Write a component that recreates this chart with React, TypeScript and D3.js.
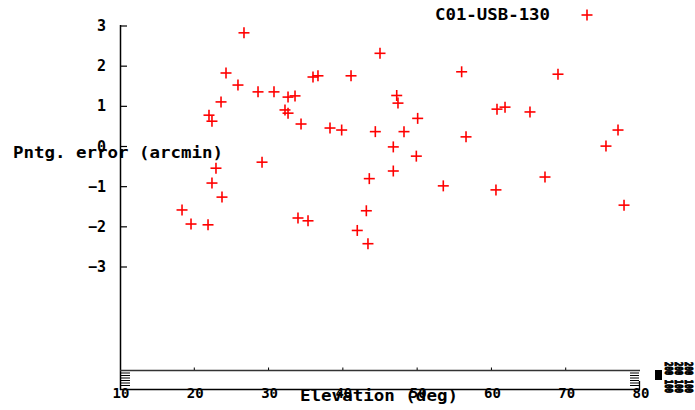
import React from "react";
import * as d3 from "d3";

const elevation = [18.35, 19.56, 21.85, 22.38, 22.92, 23.73, 21.98, 22.38, 23.6, 24.27, 25.88, 26.69, 28.58, 30.73, 29.12, 32.21, 32.62, 32.62, 33.56, 34.37, 33.96, 35.31, 35.98, 36.65, 38.27, 39.84, 41.1, 41.94, 43.16, 43.38, 43.56, 44.37, 45.0, 46.79, 46.79, 47.25, 47.42, 48.23, 50.07, 49.89, 53.52, 55.99, 56.58, 60.75, 60.61, 61.83, 65.19, 67.21, 68.96, 75.42, 77.04, 77.85];
const pntgError = [-1.58, -1.93, -1.95, -0.91, -0.54, -1.26, 0.78, 0.63, 1.11, 1.83, 1.53, 2.83, 1.36, 1.36, -0.39, 0.91, 1.23, 0.83, 1.26, 0.56, -1.78, -1.85, 1.73, 1.76, 0.46, 0.41, 1.76, -2.09, -1.6, -2.42, -0.8, 0.37, 2.32, -0.01, -0.61, 1.27, 1.08, 0.37, 0.7, -0.24, -0.98, 1.86, 0.24, 0.93, -1.08, 0.98, 0.86, -0.76, 1.8, 0.01, 0.41, -1.46];
const yTicks = [3, 2, 1, 0, -1, -2, -3];
const xTicks = [10, 20, 30, 40, 50, 60, 70, 80];
const seriesName = "C01-USB-130";
const xTitle = "Elevation (deg)";
const yTitle = "Pntg. error (arcmin)";

const FONT = "'DejaVu Sans Mono', monospace";

export default function App() {
  const x = d3.scaleLinear().domain([10, 80]).range([120, 640]);
  const y = d3.scaleLinear().domain([-3, 3]).range([267, 26]);
  const red = "#ff0000";
  const plus = (cx: number, cy: number, k: string | number) => (
    <g key={k} stroke={red} strokeWidth={1.6}>
      <line x1={cx - 5.5} x2={cx + 5.5} y1={cy} y2={cy} />
      <line x1={cx} x2={cx} y1={cy - 5.5} y2={cy + 5.5} />
    </g>
  );
  const stack = [373, 375.5, 378, 380.5, 383, 385.5];
  return (
    <svg width={695} height={410} style={{ position: "absolute", left: 0, top: 0, background: "#fff" }}>
      <rect width={695} height={410} fill="#fff" />
      {/* left axis */}
      <line x1={120.5} x2={120.5} y1={25} y2={390} stroke="#000" strokeWidth={1.5} />
      {yTicks.map((t) => (
        <g key={t}>
          <line x1={120.5} x2={127} y1={y(t)} y2={y(t)} stroke="#000" strokeWidth={1.2} />
          <text x={106} y={y(t) + 5} textAnchor="end" fontFamily={FONT} fontWeight="bold" fontSize={15}>
            {t < 0 ? "\u2212" + Math.abs(t) : String(t)}
          </text>
        </g>
      ))}
      {/* x axis lines */}
      <line x1={120} x2={640} y1={370.5} y2={370.5} stroke="#333" strokeWidth={1.3} />
      <line x1={120} x2={640} y1={389.5} y2={389.5} stroke="#000" strokeWidth={1.5} />
      <line x1={639.5} x2={639.5} y1={381} y2={390} stroke="#000" strokeWidth={1.3} />
      {xTicks.slice(1, -1).map((t) => (
        <line key={t} x1={x(t)} x2={x(t)} y1={367.5} y2={370} stroke="#000" strokeWidth={1} />
      ))}
      {stack.map((s, i) => (
        <g key={i}>
          <line x1={121} x2={130} y1={s} y2={s} stroke="#000" strokeWidth={1} />
          <line x1={630} x2={639} y1={s} y2={s} stroke="#000" strokeWidth={1} />
        </g>
      ))}
      {xTicks.map((t) => (
        <text key={t} x={x(t) + 1} y={398} textAnchor="middle" fontFamily={FONT} fontWeight="bold" fontSize={14}>
          {t}
        </text>
      ))}
      {/* right garbage labels */}
      <rect x={655} y={370} width={7} height={10} fill="#000" />
      {[668.5, 678.5, 689].map((cx, i) => (
        <text key={i} transform={`translate(${cx - 4},${362}) rotate(90)`} textAnchor="start"
          fontFamily={FONT} fontWeight="bold" fontSize={10} stroke="#000" strokeWidth={1}
          textLength={31} lengthAdjust="spacingAndGlyphs">
          200 100
        </text>
      ))}
      {/* titles */}
      <text x={13} y={158} fontFamily={FONT} fontWeight="bold" fontSize={15} textLength={210} lengthAdjust="spacingAndGlyphs">
        {yTitle}
      </text>
      <text x={300} y={401} fontFamily={FONT} fontWeight="bold" fontSize={15} textLength={158} lengthAdjust="spacingAndGlyphs">
        {xTitle}
      </text>
      {/* legend */}
      <text x={435} y={20} fontFamily={FONT} fontWeight="bold" fontSize={15} textLength={115} lengthAdjust="spacingAndGlyphs">
        {seriesName}
      </text>
      {plus(587, 15, "legend")}
      {/* data */}
      {elevation.map((e, i) => plus(x(e), y(pntgError[i]), i))}
    </svg>
  );
}
